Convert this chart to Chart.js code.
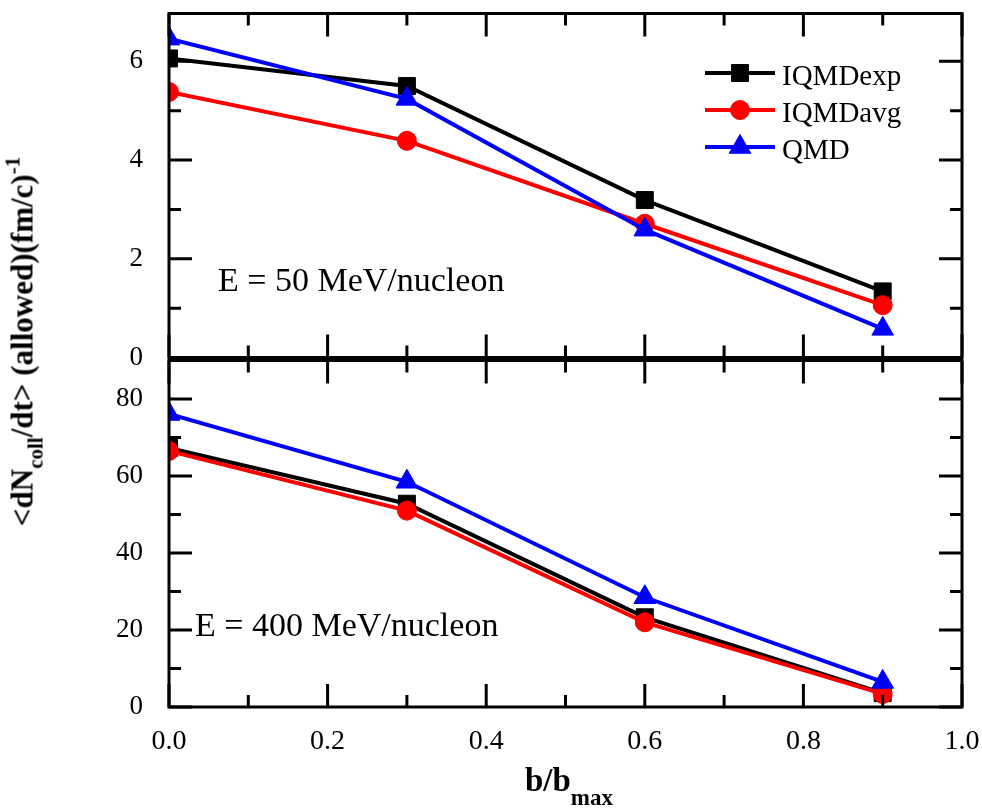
<!DOCTYPE html>
<html>
<head>
<meta charset="utf-8">
<script src="https://cdn.jsdelivr.net/npm/chart.js@4.4.1/dist/chart.umd.min.js"></script>
<style>
    body { margin: 0; background: #fff; width: 982px; height: 812px; position: relative; overflow: hidden; font-family: "Liberation Serif", serif; color: #000; }
    canvas { position: absolute; left: 0; }
    #topChart { top: 0; }
    #bottomChart { top: 347px; }
    .note { position: absolute; font-size: 34px; line-height: 34px; white-space: nowrap; }
    #xTitle { position: absolute; left: 369px; top: 764px; width: 400px; text-align: center; font-weight: bold; font-size: 33px; line-height: 33px; white-space: nowrap; }
    #yTitle { position: absolute; left: -228px; top: 326px; width: 500px; height: 31px; text-align: center; font-weight: bold; font-size: 31px; line-height: 31px; white-space: nowrap; transform: rotate(-90deg); transform-origin: 50% 50%; }
    .sub { font-size: 21px; position: relative; top: 10px; }
    .sup { font-size: 21px; position: relative; top: -13px; }
</style>
</head>
<body>
<canvas id="topChart" width="982" height="371"></canvas>
<canvas id="bottomChart" width="982" height="465"></canvas>
<div class="note" style="left:218px; top:263px;">E = 50 MeV/nucleon</div>
<div class="note" style="left:195px; top:608px;">E = 400 MeV/nucleon</div>
<div id="xTitle">b/b<span class="sub" style="top:14px; font-size:23px">max</span></div>
<div id="yTitle">&lt;dN<span class="sub">coll</span>/dt&gt; (allowed)(fm/c)<span class="sup">-1</span></div>
<script>
// impact parameter positions (b/bmax)
const bValues = [0, 0.3, 0.6, 0.9];
const seriesNames = ['IQMDexp', 'IQMDavg', 'QMD'];

// E = 50 MeV/nucleon
const exp50 = [6.06, 5.50, 3.19, 1.34];
const avg50 = [5.38, 4.39, 2.71, 1.06];
const qmd50 = [6.46, 5.24, 2.59, 0.58];

// E = 400 MeV/nucleon
const exp400 = [67.3, 52.8, 23.3, 3.6];
const avg400 = [66.5, 51.0, 22.0, 3.4];
const qmd400 = [76.1, 58.5, 28.5, 6.5];

// tick labels
const xTicks = [0, 0.2, 0.4, 0.6, 0.8, 1.0];
const xMinor = [0.1, 0.3, 0.5, 0.7, 0.9];
const yTicks50 = [0, 2, 4, 6];
const yMinor50 = [1, 3, 5];
const yTicks400 = [0, 20, 40, 60, 80];
const yMinor400 = [10, 30, 50, 70];

const FONT = 'Liberation Serif';
const styles = [
    { color: '#000000', point: 'rect', radius: 12 },
    { color: '#ff0000', point: 'circle', radius: 9.5 },
    { color: '#0000ff', point: 'triangle', radius: 12.5 }
];

function toPoints(values) {
    return values.map((v, i) => ({ x: bValues[i], y: v }));
}

function makeDatasets(lists) {
    return lists.map((vals, i) => ({
        label: seriesNames[i],
        data: toPoints(vals),
        borderColor: styles[i].color,
        backgroundColor: styles[i].color,
        borderWidth: 4,
        pointStyle: styles[i].point,
        pointRadius: styles[i].radius,
        pointBorderWidth: 1,
        pointBorderColor: styles[i].color,
        pointBackgroundColor: styles[i].color,
        tension: 0,
        clip: 0,
        order: 2 - i // QMD on top
    }));
}

// same shapes as chart.js drawPoint, for the legend
function drawMarker(ctx, style, x, y, r) {
    ctx.beginPath();
    if (style === 'rect') {
        const s = Math.SQRT1_2 * r;
        ctx.rect(x - s, y - s, 2 * s, 2 * s);
    } else if (style === 'circle') {
        ctx.arc(x, y, r, 0, Math.PI * 2);
    } else {
        let rad = 0;
        for (let k = 0; k < 3; k++) {
            const px = x + Math.sin(rad) * r, py = y - Math.cos(rad) * r;
            k === 0 ? ctx.moveTo(px, py) : ctx.lineTo(px, py);
            rad += 2 * Math.PI / 3;
        }
        ctx.closePath();
    }
    ctx.fill();
    ctx.stroke();
}

// frame box with inward ticks on all four sides
const frameTicks = {
    id: 'frameTicks',
    afterDatasetsDraw(chart, args, opts) {
        const { ctx, chartArea: a, scales: { x, y } } = chart;
        ctx.save();
        ctx.strokeStyle = '#000';
        ctx.lineWidth = 3;
        ctx.strokeRect(a.left, a.top, a.right - a.left, a.bottom - a.top);
        ctx.beginPath();
        const xt = (v, len) => {
            const px = x.getPixelForValue(v);
            ctx.moveTo(px, a.bottom); ctx.lineTo(px, a.bottom - len);
            ctx.moveTo(px, a.top); ctx.lineTo(px, a.top + len);
        };
        const yt = (v, len) => {
            const py = y.getPixelForValue(v);
            ctx.moveTo(a.left, py); ctx.lineTo(a.left + len, py);
            ctx.moveTo(a.right, py); ctx.lineTo(a.right - len, py);
        };
        xTicks.forEach(v => xt(v, 23));
        xMinor.forEach(v => xt(v, 12));
        opts.yMajor.forEach(v => yt(v, 23));
        opts.yMinor.forEach(v => yt(v, 12));
        ctx.stroke();
        ctx.restore();
    }
};

const legendBox = {
    id: 'legendBox',
    afterDraw(chart, args, opts) {
        if (!opts.show) return;
        const ctx = chart.ctx;
        ctx.save();
        ctx.font = '29px "' + FONT + '"';
        ctx.textBaseline = 'alphabetic';
        seriesNames.forEach((name, i) => {
            const rowY = 73 + i * 37;
            ctx.strokeStyle = styles[i].color;
            ctx.fillStyle = styles[i].color;
            ctx.lineWidth = 4;
            ctx.beginPath();
            ctx.moveTo(705, rowY); ctx.lineTo(775, rowY);
            ctx.stroke();
            ctx.lineWidth = 1;
            drawMarker(ctx, styles[i].point, 740, rowY, styles[i].radius);
            ctx.fillStyle = '#000';
            ctx.fillText(name, 782, rowY + 12);
        });
        ctx.restore();
    }
};

function buildChart(id, lists, yMax, yMajor, yMinor, showX, xHeight, showLegend) {
    return new Chart(document.getElementById(id), {
        type: 'line',
        data: { datasets: makeDatasets(lists) },
        options: {
            responsive: false,
            animation: false,
            events: [],
            layout: { padding: { left: 0, top: 12, right: 20, bottom: showX ? 0 : 12 } },
            plugins: {
                legend: { display: false },
                tooltip: { enabled: false },
                frameTicks: { yMajor: yMajor, yMinor: yMinor },
                legendBox: { show: showLegend }
            },
            scales: {
                x: {
                    type: 'linear',
                    min: 0,
                    max: 1,
                    display: showX,
                    grid: { display: false, drawTicks: false },
                    border: { display: false },
                    ticks: {
                        padding: 18,
                        color: '#000',
                        font: { family: FONT, size: 28 },
                        callback: v => v.toFixed(1)
                    },
                    afterBuildTicks: s => { s.ticks = xTicks.map(v => ({ value: v })); },
                    afterFit: s => {
                        if (showX) s.height = xHeight;
                        s.paddingLeft = 0; s.paddingRight = 0;
                    }
                },
                y: {
                    min: 0,
                    max: yMax,
                    grid: { display: false, drawTicks: false },
                    border: { display: false },
                    ticks: {
                        padding: 26,
                        color: '#000',
                        font: { family: FONT, size: 27 }
                    },
                    afterBuildTicks: s => { s.ticks = yMajor.map(v => ({ value: v })); },
                    afterFit: s => {
                        s.width = 169;
                        s.paddingTop = 0; s.paddingBottom = 0;
                    }
                }
            }
        },
        plugins: [frameTicks, legendBox]
    });
}

buildChart('topChart', [exp50, avg50, qmd50], 6.97, yTicks50, yMinor50, false, 0, true);
buildChart('bottomChart', [exp400, avg400, qmd400], 90, yTicks400, yMinor400, true, 105, false);
</script>
</body>
</html>
